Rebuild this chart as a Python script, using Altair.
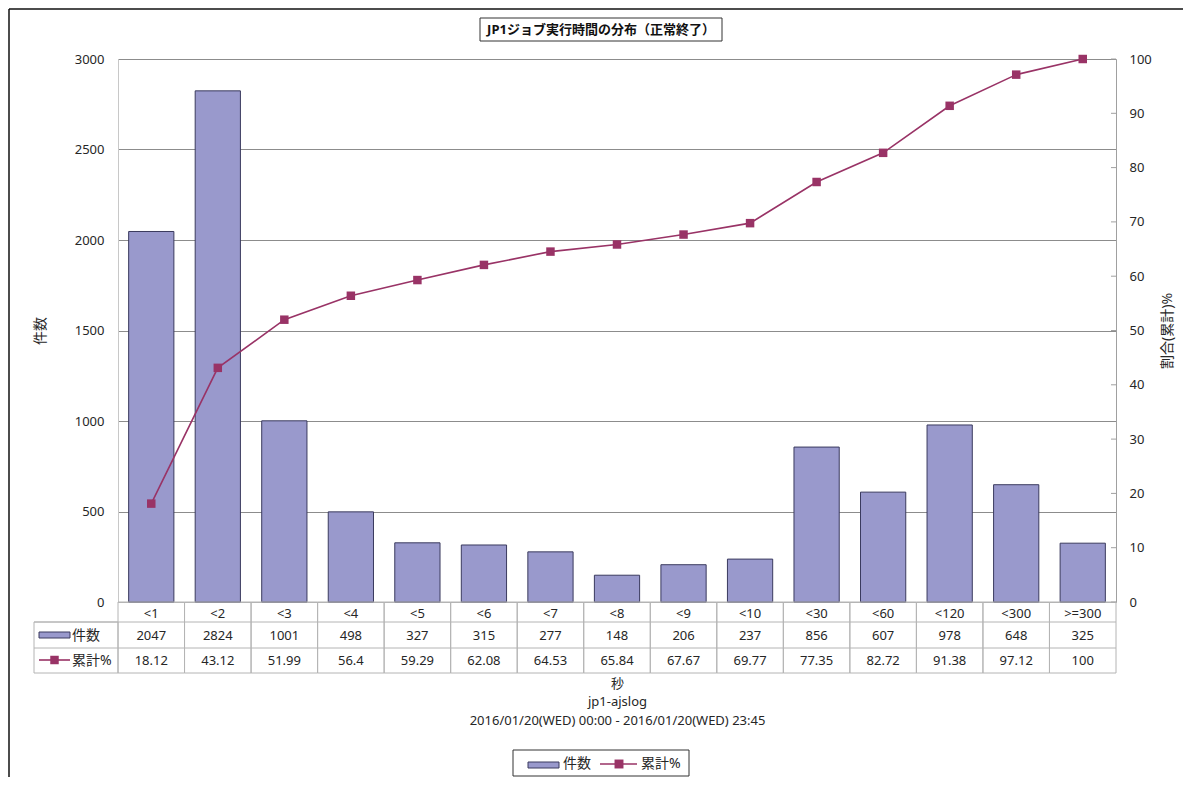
import altair as alt
import pandas as pd

# ---------------- data ----------------
cats = ["<1", "<2", "<3", "<4", "<5", "<6", "<7", "<8", "<9", "<10",
        "<30", "<60", "<120", "<300", ">=300"]
counts = [2047, 2824, 1001, 498, 327, 315, 277, 148, 206, 237,
          856, 607, 978, 648, 325]
pcts = [18.12, 43.12, 51.99, 56.4, 59.29, 62.08, 64.53, 65.84, 67.67, 69.77,
        77.35, 82.72, 91.38, 97.12, 100]
count_ticks = [0, 500, 1000, 1500, 2000, 2500, 3000]
pct_ticks = [0, 10, 20, 30, 40, 50, 60, 70, 80, 90, 100]

title_text = "JP1ジョブ実行時間の分布（正常終了）"
x_title = ["秒", "jp1-ajslog", "2016/01/20(WED) 00:00 - 2016/01/20(WED) 23:45"]
left_title = "件数"
right_title = "割合(累計)%"
series_names = ["件数", "累計%"]

df = pd.DataFrame({"cat": cats, "count": counts, "pct": pcts})
tick_df = pd.DataFrame({"pct": pct_ticks})
one = pd.DataFrame({"k": [0]})

# ---------------- style ----------------
FONT = "'Noto Sans', 'Noto Sans CJK JP', sans-serif"
BAR_FILL = "#9999cc"
BAR_STROKE = "#3a3a5e"
LINE = "#993366"
TXT = "#262626"
GRID = "#8c8c8c"
TABLE = "#b4b4b4"
W, H = 998, 543

xaxis = alt.Axis(labelAngle=0, labelFontSize=13, labelColor=TXT, labelPadding=5,
                 ticks=False, domain=True, domainColor=TABLE, grid=False,
                 title=x_title, titleFontSize=13, titleFontWeight="normal",
                 titleColor=TXT, titleX=W / 2, titleY=75, titleBaseline="top",
                 titleAlign="center", titleLineHeight=18.5)
X = alt.X("cat:N", sort=cats,
          scale=alt.Scale(type="band", paddingInner=0, paddingOuter=0),
          axis=xaxis)

count_axis = alt.Axis(orient="left", values=count_ticks, format="d", grid=True,
                      gridColor=GRID, ticks=False, labelPadding=14, labelFontSize=13,
                      labelColor=TXT, domainColor="#c8c8c8", title=left_title,
                      titleAngle=270, titleX=-78, titleY=H / 2, titleFontSize=14,
                      titleFontWeight="normal", titleColor=TXT,
                      titleAlign="center", titleBaseline="middle")
pct_axis = alt.Axis(orient="right", values=pct_ticks, format="d", grid=False,
                    ticks=False, labelPadding=13, labelFontSize=13, labelColor=TXT,
                    domainColor="#a0a0a0", title=right_title, titleAngle=270,
                    titleX=51, titleY=H / 2, titleFontSize=14,
                    titleFontWeight="normal", titleColor=TXT,
                    titleAlign="center", titleBaseline="middle")
Ypct = alt.Y("pct:Q", scale=alt.Scale(domain=[0, 100], nice=False), axis=pct_axis)

# ---------------- main marks ----------------
bars = alt.Chart(df).mark_bar(width=alt.RelativeBandSize(0.68), fill=BAR_FILL,
                              stroke=BAR_STROKE, strokeWidth=1).encode(
    x=X,
    y=alt.Y("count:Q", scale=alt.Scale(domain=[0, 3000], nice=False), axis=count_axis),
)

line = alt.Chart(df).mark_line(color=LINE, strokeWidth=1.6).encode(x=X, y=Ypct)
pts = alt.Chart(df).mark_point(shape="square", filled=True, size=72, color=LINE,
                               opacity=1).encode(x=X, y=Ypct)
inner_ticks = alt.Chart(tick_df).mark_rule(color="#a0a0a0").encode(
    y=Ypct, x=alt.value(W - 5), x2=alt.value(W))
pct_group = alt.layer(line, pts, inner_ticks)

# ---------------- data table ----------------
cells = alt.Chart(df).mark_rect(fillOpacity=0, stroke=TABLE, strokeWidth=1).encode(
    x=X, y=alt.value(H), y2=alt.value(614))
count_text = alt.Chart(df).mark_text(fontSize=13, color=TXT, baseline="middle").encode(
    x=X, y=alt.value(577), text="count:N")
pct_text = alt.Chart(df).mark_text(fontSize=13, color=TXT, baseline="middle").encode(
    x=X, y=alt.value(602), text="pct:N")

row_rule1 = alt.Chart(one).mark_rule(color=TABLE).encode(
    x=alt.value(-84), x2=alt.value(W), y=alt.value(563))
row_rule2 = alt.Chart(one).mark_rule(color=TABLE).encode(
    x=alt.value(-84), x2=alt.value(W), y=alt.value(589))
left_box = alt.Chart(one).mark_rect(fillOpacity=0, stroke=TABLE).encode(
    x=alt.value(-84), x2=alt.value(0), y=alt.value(563), y2=alt.value(614))
tbl_swatch = alt.Chart(one).mark_rect(fill=BAR_FILL, stroke=BAR_STROKE).encode(
    x=alt.value(-79), x2=alt.value(-48), y=alt.value(573), y2=alt.value(579))
tbl_lab1 = alt.Chart(one).mark_text(fontSize=14, color=TXT, align="left",
                                    baseline="middle", text=series_names[0]).encode(
    x=alt.value(-46), y=alt.value(577))
tbl_line = alt.Chart(one).mark_rule(color=LINE, strokeWidth=1.6).encode(
    x=alt.value(-79), x2=alt.value(-48), y=alt.value(601))
tbl_sq = alt.Chart(one).mark_point(shape="square", filled=True, size=72, color=LINE,
                                   opacity=1).encode(x=alt.value(-63.5), y=alt.value(601))
tbl_lab2 = alt.Chart(one).mark_text(fontSize=14, color=TXT, align="left",
                                    baseline="middle", text=series_names[1]).encode(
    x=alt.value(-46), y=alt.value(602))

# ---------------- title box ----------------
title_box = alt.Chart(one).mark_rect(fill="white", stroke="#333333", strokeWidth=1).encode(
    x=alt.value(362), x2=alt.value(604), y=alt.value(-41), y2=alt.value(-18))
title_mark = alt.Chart(one).mark_text(fontSize=13, fontWeight="bold", color="#111111",
                                      align="center", baseline="middle",
                                      text=title_text).encode(
    x=alt.value(483), y=alt.value(-29.5))

# ---------------- bottom legend ----------------
leg_box = alt.Chart(one).mark_rect(fill="white", stroke="#333333", strokeWidth=1).encode(
    x=alt.value(395), x2=alt.value(571), y=alt.value(691), y2=alt.value(717))
leg_swatch = alt.Chart(one).mark_rect(fill=BAR_FILL, stroke=BAR_STROKE).encode(
    x=alt.value(410), x2=alt.value(441), y=alt.value(703), y2=alt.value(709))
leg_lab1 = alt.Chart(one).mark_text(fontSize=14, color=TXT, align="left",
                                    baseline="middle", text=series_names[0]).encode(
    x=alt.value(445), y=alt.value(705))
leg_line = alt.Chart(one).mark_rule(color=LINE, strokeWidth=1.6).encode(
    x=alt.value(482), x2=alt.value(519), y=alt.value(705))
leg_sq = alt.Chart(one).mark_point(shape="square", filled=True, size=80, color=LINE,
                                   opacity=1).encode(x=alt.value(501), y=alt.value(705))
leg_lab2 = alt.Chart(one).mark_text(fontSize=14, color=TXT, align="left",
                                    baseline="middle", text=series_names[1]).encode(
    x=alt.value(523), y=alt.value(705))

# ---------------- outer frame ----------------
frame_left = alt.Chart(one).mark_rule(color="#111111", strokeWidth=1.5).encode(
    x=alt.value(-109), y=alt.value(-50), y2=alt.value(720))
frame_top = alt.Chart(one).mark_rule(color="#111111", strokeWidth=1.5).encode(
    x=alt.value(-109), x2=alt.value(1070), y=alt.value(-50))

chart = alt.layer(
    bars, pct_group,
    cells, count_text, pct_text, row_rule1, row_rule2, left_box,
    tbl_swatch, tbl_lab1, tbl_line, tbl_sq, tbl_lab2,
    title_box, title_mark,
    leg_box, leg_swatch, leg_lab1, leg_line, leg_sq, leg_lab2,
    frame_left, frame_top,
).resolve_scale(y="independent").properties(
    width=W, height=H,
    padding={"left": 110, "top": 51, "right": 67, "bottom": 175},
    autosize=alt.AutoSizeParams(type="none"),
    background="white",
).configure_view(stroke=None).configure(font=FONT)

chart.save("out.html", embed_options={"renderer": "svg", "actions": False})
